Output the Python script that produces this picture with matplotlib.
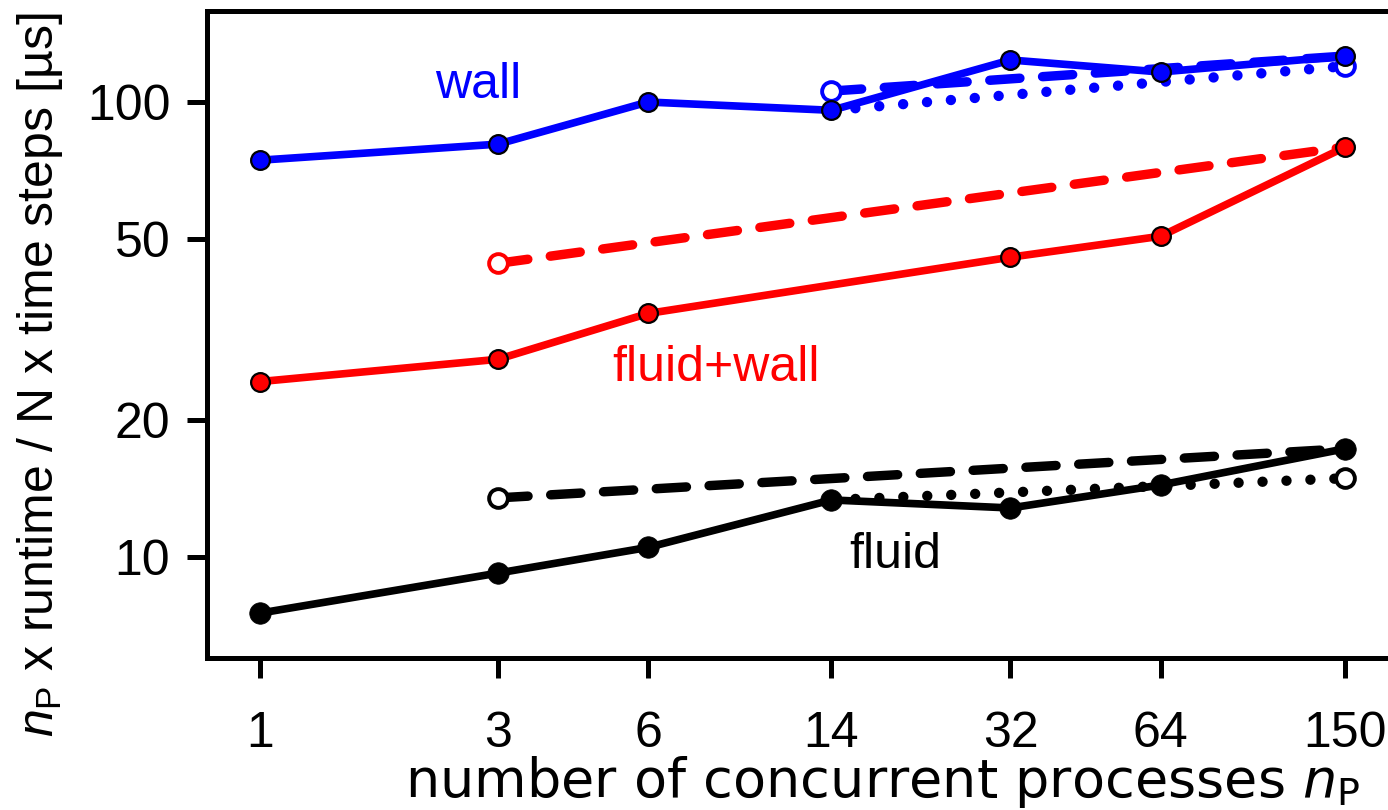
import matplotlib
matplotlib.use("Agg")
import matplotlib.pyplot as plt

plt.rcParams['font.family'] = ['Liberation Sans', 'DejaVu Sans']
plt.rcParams['mathtext.fontset'] = 'custom'
plt.rcParams['mathtext.rm'] = 'Liberation Sans'
plt.rcParams['mathtext.it'] = 'Liberation Sans:italic'

# processes and per-step cost [µs]
n_procs = [1, 3, 6, 14, 32, 64, 150]
tick_labels = ['1', '3', '6', '14', '32', '64', '150']
y_ticks = [10, 20, 50, 100]

wall = [74.5, 80.8, 100.0, 95.9, 123.7, 116.4, 126.2]
fluid_wall_procs = [1, 3, 6, 32, 64, 150]
fluid_wall = [24.3, 27.2, 34.3, 45.6, 50.7, 79.6]
fluid = [7.53, 9.22, 10.5, 13.35, 12.82, 14.4, 17.3]

# reference trends (dashed / dotted)
wall_dash_procs = [14, 150]
wall_dash = [105.7, 126.2]
wall_dot_procs = [14, 150]
wall_dot = [95.9, 119.9]
fw_dash_procs = [3, 150]
fw_dash = [44.2, 79.6]
fluid_dash_procs = [3, 150]
fluid_dash = [13.49, 17.3]
fluid_dot_procs = [14, 150]
fluid_dot = [13.35, 14.9]

BLUE = '#0000ff'
RED = '#ff0000'
BLACK = '#000000'

W, H = 1388, 810
fig = plt.figure(figsize=(W / 100, H / 100), dpi=100)
ax = fig.add_axes([207 / W, 1 - 658 / H, 1 - 207 / W, (658 - 11) / H])
ax.set_xscale('log')
ax.set_yscale('log')

dash_kw = dict(linestyle=(0, (3.2, 2.4)), lw=6.8, dash_capstyle='round', zorder=2)
dot_kw = dict(linestyle=(0, (0.001, 2.3)), lw=7.5, dash_capstyle='round', zorder=2)

# dashed and dotted trends
ax.plot(wall_dash_procs, wall_dash, color=BLUE, **dash_kw)
ax.plot(wall_dot_procs, wall_dot, color=BLUE, **dot_kw)
ax.plot(fw_dash_procs, fw_dash, color=RED, **dash_kw)
ax.plot(fluid_dash_procs, fluid_dash, color=BLACK, **dash_kw)
ax.plot(fluid_dot_procs, fluid_dot, color=BLACK, **dot_kw)

# open markers at the trend ends
open_kw = dict(marker='o', linestyle='none', markerfacecolor='white',
               markeredgewidth=2.8, markersize=13.5, zorder=3)
ax.plot([wall_dash_procs[0]], [wall_dash[0]], markeredgecolor=BLUE, **open_kw)
ax.plot([wall_dot_procs[-1]], [wall_dot[-1]], markeredgecolor=BLUE, **open_kw)
ax.plot([fw_dash_procs[0]], [fw_dash[0]], markeredgecolor=RED, **open_kw)
ax.plot([fluid_dash_procs[0]], [fluid_dash[0]], markeredgecolor=BLACK, **open_kw)
ax.plot([fluid_dot_procs[-1]], [fluid_dot[-1]], markeredgecolor=BLACK, **open_kw)

# measured series
ax.plot(n_procs, wall, color=BLUE, lw=5.5, marker='o', markersize=13.5,
        markerfacecolor=BLUE, markeredgecolor=BLACK, markeredgewidth=1.6, zorder=4)
ax.plot(fluid_wall_procs, fluid_wall, color=RED, lw=5.5, marker='o', markersize=13.5,
        markerfacecolor=RED, markeredgecolor=BLACK, markeredgewidth=1.6, zorder=4)
ax.plot(n_procs, fluid, color=BLACK, lw=5.5, marker='o', markersize=15.5,
        markerfacecolor=BLACK, markeredgecolor=BLACK, markeredgewidth=0.5, zorder=4)

# curve names (left edge, baseline in figure pixels from top)
for txt, col, xp, yb in [('wall', BLUE, 435, 98),
                         ('fluid+wall', RED, 612, 381),
                         ('fluid', BLACK, 849, 568)]:
    ax.annotate(txt, xy=(xp, H - yb), xycoords='figure pixels', color=col,
                fontsize=36, ha='left', va='baseline')

ax.set_xlim(0.783, 182.9)
ax.set_ylim(6.0, 158.5)

ax.set_xticks(n_procs)
ax.set_xticklabels(tick_labels)
ax.set_yticks(y_ticks)
ax.set_yticklabels([str(v) for v in y_ticks])
ax.minorticks_off()
ax.tick_params(axis='both', which='major', direction='out', length=14.4, width=3.6,
               labelsize=36, color=BLACK)
ax.tick_params(axis='x', pad=24)
ax.tick_params(axis='y', pad=12)

for side in ('left', 'bottom', 'top'):
    ax.spines[side].set_linewidth(3.6)
ax.spines['right'].set_visible(False)

ax.set_xlabel(r'number of concurrent processes $n_\mathrm{P}$', fontsize=39,
              fontfamily='DejaVu Sans', math_fontfamily='dejavusans')
ax.set_ylabel(r'$n_\mathrm{P}$ x runtime / N x time steps [µs]', fontsize=36)

fig.canvas.draw()
# position axis titles in figure pixels
inv = ax.transAxes.inverted()
xl = inv.transform(fig.transFigure.transform((883 / W, 1 - 797 / H)))
yl = inv.transform(fig.transFigure.transform((40 / W, 1 - 375 / H)))
ax.xaxis.set_label_coords(xl[0], xl[1])
ax.yaxis.set_label_coords(yl[0], yl[1])
ax.xaxis.label.set_va('baseline')
ax.yaxis.label.set_va('center')

fig.savefig('out.png', dpi=100)
